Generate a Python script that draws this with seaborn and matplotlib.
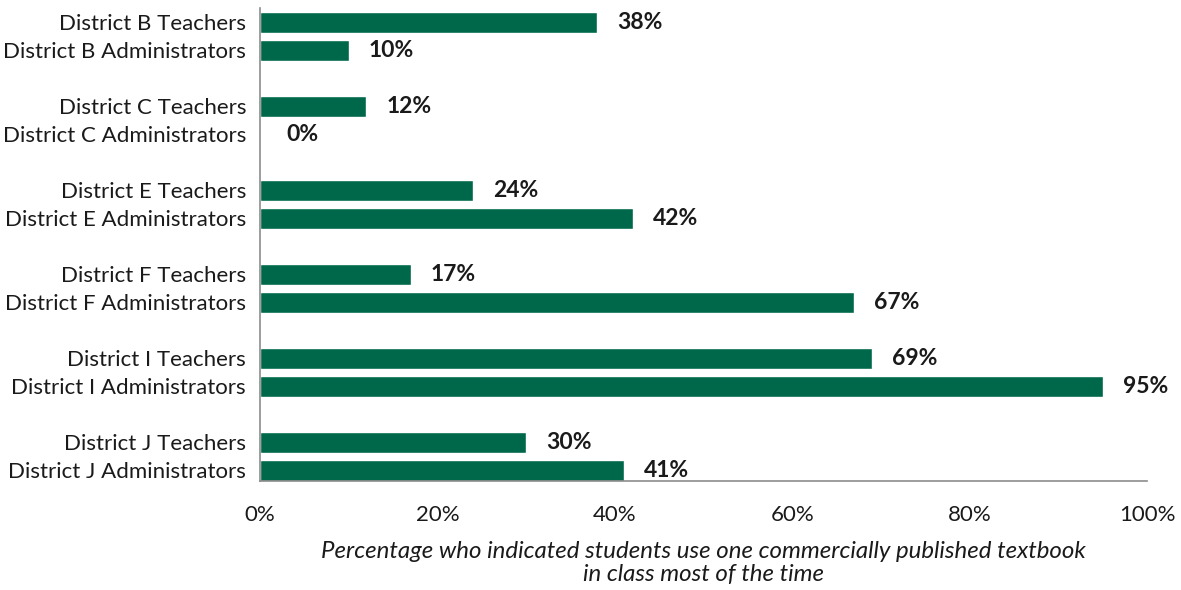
import matplotlib
matplotlib.use("Agg")
import matplotlib.pyplot as plt
import seaborn as sns
import pandas as pd

districts = ["B", "C", "E", "F", "I", "J"]
teachers = [38, 12, 24, 17, 69, 30]
administrators = [10, 0, 42, 67, 95, 41]
x_ticks = [0, 20, 40, 60, 80, 100]
x_title = "Percentage who indicated students use one commercially published textbook\nin class most of the time"

sns.set_theme(style="white")
plt.rcParams["font.family"] = ["Lato", "DejaVu Sans"]

rows = []
for g, (d, t, a) in enumerate(zip(districts, teachers, administrators)):
    rows.append({"label": f"District {d} Teachers", "pct": t, "pos": g * 3})
    rows.append({"label": f"District {d} Administrators", "pct": a, "pos": g * 3 + 1})
df = pd.DataFrame(rows)

fig = plt.figure(figsize=(11.81, 5.90), dpi=100)
ax = fig.add_axes([260 / 1181, 109 / 590, 887 / 1181, 473 / 590])

green = "#00684A"
sns.barplot(data=df, x="pct", y="pos", orient="h", native_scale=True,
            width=0.75, color=green, saturation=1, ax=ax)

for _, r in df.iterrows():
    ax.text(r["pct"] + 4.8, r["pos"], f"{r['pct']}%", va="center", ha="center",
            fontsize=16.5, fontweight="bold", color="#1a1a1a")

ax.set_xlim(0, 100)
ax.set_ylim(16.39, -0.5)
ax.set_yticks(df["pos"])
ax.set_yticklabels(df["label"], fontsize=16, color="#1a1a1a")
ax.set_xticks(x_ticks)
ax.set_xticklabels([f"{v}%" for v in x_ticks], fontsize=16, color="#1a1a1a")
ax.set_ylabel("")
ax.set_xlabel(x_title, fontsize=17.3, fontstyle="italic", color="#1a1a1a",
              labelpad=12, linespacing=1.1)

for s in ["top", "right"]:
    ax.spines[s].set_visible(False)
for s in ["left", "bottom"]:
    ax.spines[s].set_color("#8c8c8c")
    ax.spines[s].set_linewidth(1.2)
ax.tick_params(axis="x", direction="out", length=10, width=1.2, color="#8c8c8c", pad=7)
ax.tick_params(axis="y", length=0, pad=10)

fig.savefig("out.png", dpi=100)
